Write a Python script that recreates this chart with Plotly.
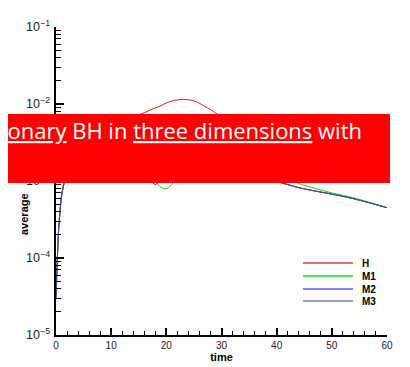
import plotly.graph_objects as go

# ---- data ----
time = [0, 0.25, 0.5, 1, 1.5, 2, 3, 4, 6, 8, 10, 12, 14, 16, 17, 18, 19, 20, 21, 22,
        23, 25, 27, 29, 31, 34, 37, 40, 41, 42, 44, 47, 50, 53, 56, 60]

H = [3e-5, 1e-4, 2.6e-4, 6.5e-4, 1.0e-3, 1.3e-3, 1.7e-3, 2.1e-3, 2.9e-3, 3.8e-3,
     4.8e-3, 5.8e-3, 6.8e-3, 7.7e-3, 8.3e-3, 8.9e-3, 9.5e-3, 1.03e-2, 1.09e-2, 1.13e-2,
     1.15e-2, 1.10e-2, 9.3e-3, 7.6e-3, 5.6e-3, 3.6e-3, 2.2e-3, 1.0e-3, 9.4e-4, 9.0e-4,
     8.2e-4, 7.4e-4, 6.75e-4, 6.1e-4, 5.4e-4, 4.5e-4]

M1 = [3e-5, 1e-4, 2.5e-4, 6.3e-4, 9.5e-4, 1.15e-3, 1.3e-3, 1.4e-3, 1.6e-3, 1.8e-3,
      1.9e-3, 2.0e-3, 1.9e-3, 1.6e-3, 1.3e-3, 1.0e-3, 8.3e-4, 7.9e-4, 9.0e-4, 1.2e-3,
      1.5e-3, 1.9e-3, 2.1e-3, 2.2e-3, 2.2e-3, 2.0e-3, 1.6e-3, 1.25e-3, 1.15e-3, 1.08e-3,
      9.3e-4, 8.0e-4, 7.0e-4, 6.3e-4, 5.5e-4, 4.5e-4]

M2 = [3e-5, 1e-4, 2.4e-4, 6.2e-4, 9.4e-4, 1.12e-3, 1.25e-3, 1.35e-3, 1.5e-3, 1.65e-3,
      1.75e-3, 1.75e-3, 1.6e-3, 1.3e-3, 1.05e-3, 9.0e-4, 1.05e-3, 1.4e-3, 1.7e-3, 1.9e-3,
      2.0e-3, 2.1e-3, 2.1e-3, 2.0e-3, 1.9e-3, 1.7e-3, 1.35e-3, 1.0e-3, 9.4e-4, 9.0e-4,
      8.2e-4, 7.4e-4, 6.75e-4, 6.1e-4, 5.4e-4, 4.5e-4]

M3 = [3e-5, 1e-4, 2.4e-4, 6.2e-4, 9.4e-4, 1.12e-3, 1.25e-3, 1.35e-3, 1.5e-3, 1.65e-3,
      1.75e-3, 1.75e-3, 1.6e-3, 1.3e-3, 1.05e-3, 9.0e-4, 1.05e-3, 1.4e-3, 1.7e-3, 1.9e-3,
      2.0e-3, 2.1e-3, 2.1e-3, 2.0e-3, 1.9e-3, 1.7e-3, 1.35e-3, 1.0e-3, 9.4e-4, 9.0e-4,
      8.2e-4, 7.4e-4, 6.75e-4, 6.1e-4, 5.4e-4, 4.5e-4]

series_names = ["H", "M1", "M2", "M3"]
series_values = [H, M1, M2, M3]
colors = ["#d81818", "#00dd00", "#3333ff", "#505050"]
opacities = [1.0, 1.0, 1.0, 0.6]
legend_colors = ["#d84040", "#20dd20", "#5555ff", "#808080"]

banner_text = "<u>Stationary</u> BH in <u>three dimensions</u> with"

# ---- figure ----
fig = go.Figure()
for name, vals, col, op in zip(series_names, series_values, colors, opacities):
    fig.add_trace(go.Scatter(x=time, y=vals, mode="lines", name=name, opacity=op,
                             line=dict(color=col, width=1, shape="spline", smoothing=0.8),
                             showlegend=False))

OFF = 8  # page body margin
W, Hh = 402, 359
ml, mr, mt, mb = 48, 23, 19, 32
pw, ph = W - ml - mr, Hh - mt - mb

def px(xw):
    # window pixel -> paper x
    return (xw - OFF - ml) / pw

def py(yw):
    # window pixel -> paper y
    return (Hh - mb - (yw - OFF)) / ph

shapes = []
# manual legend lines
leg_rows = [263, 276, 289, 301]
annotations = []
for name, col, yr in zip(series_names, legend_colors, leg_rows):
    shapes.append(dict(type="line", xref="paper", yref="paper", x0=px(303), x1=px(353),
                       y0=py(yr), y1=py(yr), line=dict(color=col, width=1.5), layer="above"))
    annotations.append(dict(xref="paper", yref="paper", x=px(360), y=py(yr), text="<b>%s</b>" % name,
                            showarrow=False, xanchor="left", yanchor="middle",
                            font=dict(family="Liberation Sans, Arial", size=10, color="black")))
# red banner
shapes.append(dict(type="rect", xref="paper", yref="paper", x0=px(-5), x1=px(390),
                   y0=py(183), y1=py(114), fillcolor="#ff0000", line=dict(width=0),
                   layer="above"))
annotations.append(dict(xref="paper", yref="paper", x=px(364), y=py(130), text=banner_text,
                        showarrow=False, xanchor="right", yanchor="middle",
                        font=dict(family="Open Sans", size=22, color="white")))
# y title
annotations.append(dict(xref="paper", yref="paper", x=px(24), y=py(237), text="<b>average</b>",
                        textangle=-90, showarrow=False, xanchor="center", yanchor="bottom",
                        font=dict(family="Liberation Sans, Arial", size=11, color="black")))

fig.update_layout(
    width=W, height=Hh,
    margin=dict(l=ml, r=mr, t=mt, b=mb, autoexpand=False),
    paper_bgcolor="white",
    plot_bgcolor="white",
    shapes=shapes,
    annotations=annotations,
    showlegend=False,
    font=dict(family="Liberation Sans, Arial", size=10, color="#222222"),
)

fig.update_xaxes(
    range=[0, 60], dtick=10, tick0=0, automargin=False,
    showline=True, linecolor="black", linewidth=2,
    ticks="inside", ticklen=7, tickwidth=1.5, tickcolor="black",
    minor=dict(ticks="inside", ticklen=4, dtick=2, tickwidth=1.2, tickcolor="black"),
    showgrid=False, zeroline=False,
    title=dict(text="<b>time</b>", font=dict(size=11, color="black"), standoff=0),
    tickfont=dict(size=10, color="#222222"),
)
fig.update_yaxes(
    type="log", range=[-5, -1], dtick=1, exponentformat="power", automargin=False,
    showline=True, linecolor="black", linewidth=2,
    ticks="inside", ticklen=8, tickwidth=1.5, tickcolor="black",
    minor=dict(ticks="inside", ticklen=5, dtick="D1", tickwidth=1.2, tickcolor="black"),
    showgrid=False, zeroline=False,
    tickfont=dict(size=10, color="#222222"),
    ticklabelstandoff=2,
)

fig.write_html("out.html")
